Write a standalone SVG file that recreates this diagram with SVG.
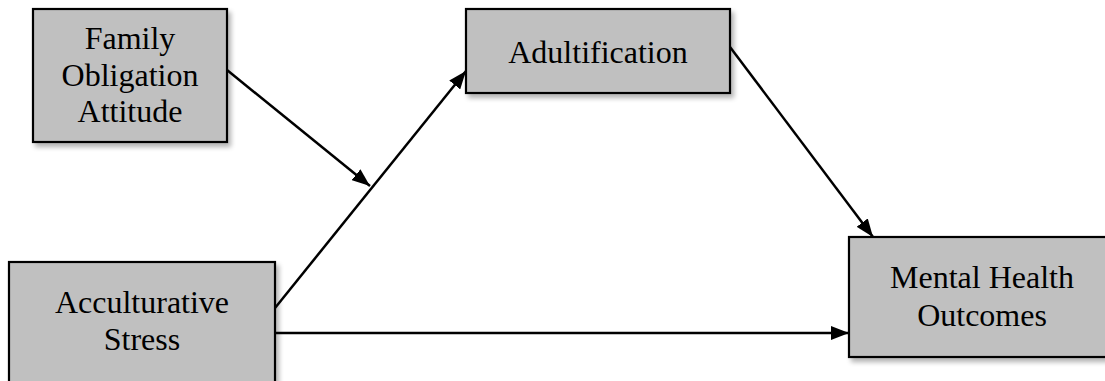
<svg xmlns="http://www.w3.org/2000/svg" width="1105" height="381" viewBox="0 0 1105 381">
  <style>
    .box { fill: #c0c0c0; stroke: #000; stroke-width: 2.2; filter: url(#shadow); }
    .lbl { font-family: "Liberation Serif", "Times New Roman", serif; font-size: 32px; fill: #000; text-anchor: middle; }
    .edge { stroke: #000; stroke-width: 2.5; fill: none; marker-end: url(#arrow); }
  </style>
  <defs>
    <filter id="shadow" x="-10%" y="-10%" width="125%" height="130%">
      <feGaussianBlur in="SourceAlpha" stdDeviation="2.5"/>
      <feOffset dx="3" dy="4" result="b"/>
      <feComponentTransfer><feFuncA type="linear" slope="0.3"/></feComponentTransfer>
      <feMerge><feMergeNode/><feMergeNode in="SourceGraphic"/></feMerge>
    </filter>
    <marker id="arrow" viewBox="0 0 18 14" refX="18" refY="7" markerWidth="18" markerHeight="14" markerUnits="userSpaceOnUse" orient="auto">
      <path d="M0,0 L18,7 L0,14 Z" fill="#000"/>
    </marker>
  </defs>
  <rect width="1105" height="381" fill="#fff"/>

  <g id="connectors">
    <line class="edge" x1="227" y1="70" x2="370" y2="186"/>
    <line class="edge" x1="275" y1="308" x2="466" y2="71"/>
    <line class="edge" x1="730" y1="47" x2="873" y2="237"/>
    <line class="edge" x1="275" y1="333" x2="849" y2="333"/>
  </g>

  <g id="family-obligation">
    <rect class="box" x="33" y="9" width="194" height="133"/>
    <text class="lbl" x="130" y="49">Family</text>
    <text class="lbl" x="130" y="86">Obligation</text>
    <text class="lbl" x="130" y="122">Attitude</text>
  </g>

  <g id="adultification">
    <rect class="box" x="466" y="9" width="264" height="84"/>
    <text class="lbl" x="598" y="63">Adultification</text>
  </g>

  <g id="acculturative-stress">
    <rect class="box" x="9" y="262" width="266" height="130"/>
    <text class="lbl" x="142" y="313">Acculturative</text>
    <text class="lbl" x="142" y="350">Stress</text>
  </g>

  <g id="mental-health">
    <rect class="box" x="849" y="237" width="266" height="120"/>
    <text class="lbl" x="982" y="288">Mental Health</text>
    <text class="lbl" x="982" y="326">Outcomes</text>
  </g>
</svg>
